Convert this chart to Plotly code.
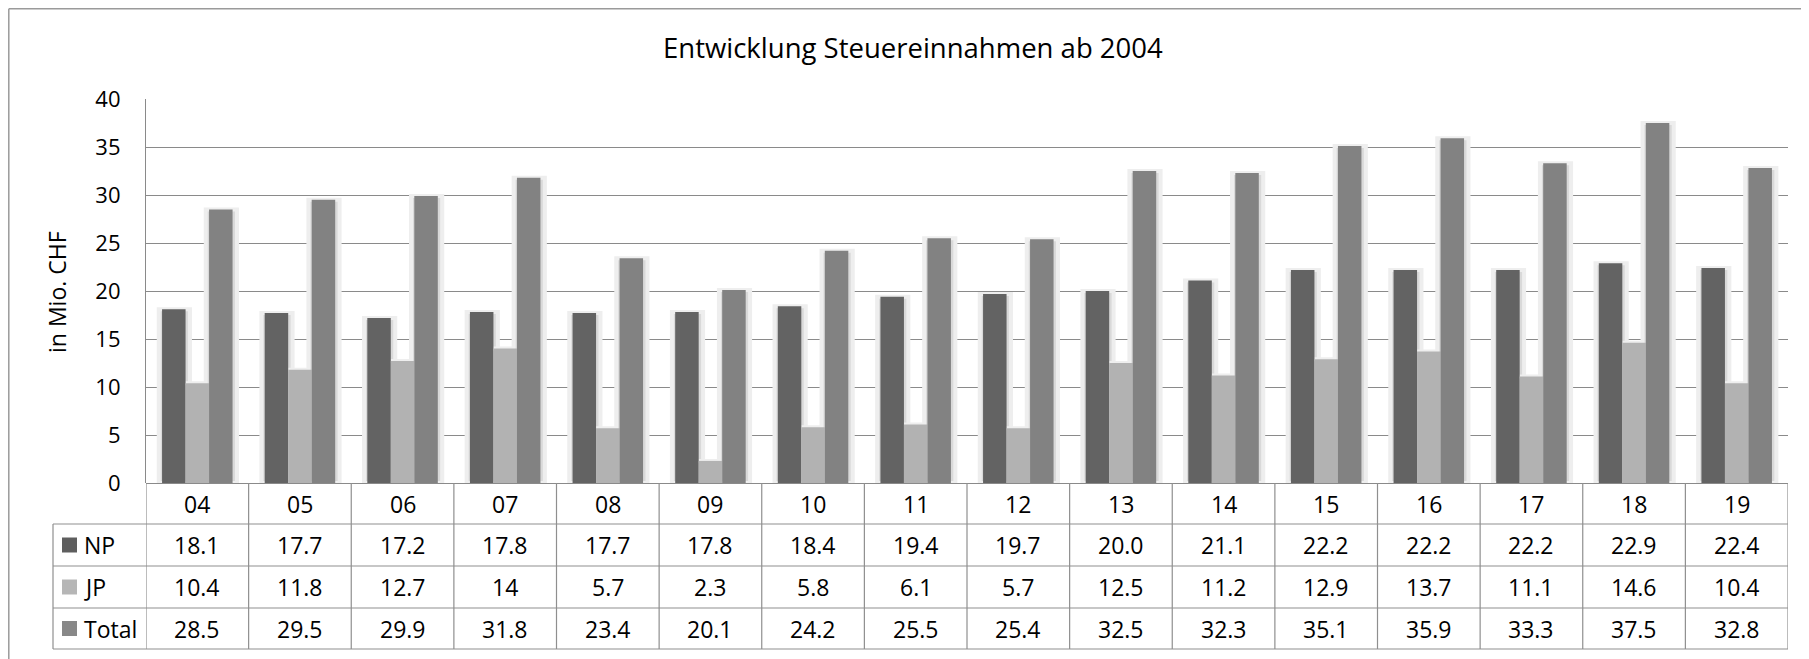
import plotly.graph_objects as go

# ---- data ----
years = ["04", "05", "06", "07", "08", "09", "10", "11", "12", "13", "14", "15", "16", "17", "18", "19"]
np_vals = [18.1, 17.7, 17.2, 17.8, 17.7, 17.8, 18.4, 19.4, 19.7, 20.0, 21.1, 22.2, 22.2, 22.2, 22.9, 22.4]
jp_vals = [10.4, 11.8, 12.7, 14, 5.7, 2.3, 5.8, 6.1, 5.7, 12.5, 11.2, 12.9, 13.7, 11.1, 14.6, 10.4]
total_vals = [28.5, 29.5, 29.9, 31.8, 23.4, 20.1, 24.2, 25.5, 25.4, 32.5, 32.3, 35.1, 35.9, 33.3, 37.5, 32.8]
series_names = ["NP", "JP", "Total"]
title_text = "Entwicklung Steuereinnahmen ab 2004"
y_title = "in Mio. CHF"

# ---- layout geometry (reference-page pixels) ----
W, H = 1809, 659
OFF = 8  # default page body margin
PL, PR, PT, PB = 146, 1788, 99, 483
pw, ph = PR - PL, PB - PT

def px_x(x):
    return (x - PL) / pw

def px_y(y):
    return (PB - y) / ph

FONT = "Open Sans, Calibri, sans-serif"
colors = ["#636363", "#b2b2b2", "#828282"]
key_colors = ["#5e5e5e", "#b6b6b6", "#888888"]
LINE = "#8f8f8f"

bw = 0.229
offsets = [-0.3435, -0.1145, 0.1145]
series = [np_vals, jp_vals, total_vals]

fig = go.Figure()
# soft shadows behind bars
for vals, off in zip(series, offsets):
    fig.add_trace(go.Bar(
        x=years, y=vals, width=bw + 0.075, offset=off - 0.032,
        marker=dict(color="#d9d9d9", line=dict(color="#eeeeee", width=4)),
        showlegend=False, hoverinfo="skip"))
for name, vals, off, c in zip(series_names, series, offsets, colors):
    fig.add_trace(go.Bar(
        x=years, y=vals, width=bw, offset=off, name=name,
        marker=dict(color=c, line=dict(width=0)), showlegend=False))

shapes = []
# outer chart border (top and left visible)
shapes.append(dict(type="line", xref="paper", yref="paper",
                   x0=px_x(8.8), x1=px_x(W + 20), y0=px_y(8.8), y1=px_y(8.8),
                   line=dict(color="#9a9a9a", width=1.5)))
shapes.append(dict(type="line", xref="paper", yref="paper",
                   x0=px_x(8.8), x1=px_x(8.8), y0=px_y(8.8), y1=px_y(H + 20),
                   line=dict(color="#9a9a9a", width=1.5)))

# data table
row_px = [483, 524, 566, 608, 649]
TL = 53
for r in row_px[1:]:
    shapes.append(dict(type="line", xref="paper", yref="paper",
                       x0=px_x(TL), x1=1, y0=px_y(r), y1=px_y(r),
                       line=dict(color=LINE, width=1.2)))
shapes.append(dict(type="line", xref="paper", yref="paper",
                   x0=px_x(TL), x1=px_x(TL), y0=px_y(row_px[1]), y1=px_y(row_px[-1]),
                   line=dict(color=LINE, width=1.2)))
for i in range(len(years) + 1):
    shapes.append(dict(type="line", xref="x", yref="paper",
                       x0=i - 0.5, x1=i - 0.5, y0=0, y1=px_y(row_px[-1]),
                       line=dict(color=LINE, width=1.2)))

annotations = []
TFS = 23
hdr_c = px_y((row_px[0] + row_px[1]) / 2)
for i, yr in enumerate(years):
    annotations.append(dict(x=i, xref="x", y=hdr_c, yref="paper", text=yr,
                            showarrow=False, xanchor="center", yanchor="middle",
                            font=dict(size=TFS, color="#000", family=FONT)))

np_txt = [f"{v:.1f}" for v in np_vals]
jp_txt = [f"{v:g}" for v in jp_vals]
tot_txt = [f"{v:g}" for v in total_vals]
for k, (name, txts) in enumerate(zip(series_names, [np_txt, jp_txt, tot_txt])):
    cy_px = (row_px[k + 1] + row_px[k + 2]) / 2
    cy = px_y(cy_px)
    for i, t in enumerate(txts):
        annotations.append(dict(x=i, xref="x", y=cy, yref="paper", text=t,
                                showarrow=False, xanchor="center", yanchor="middle",
                                font=dict(size=TFS, color="#000", family=FONT)))
    shapes.append(dict(type="rect", xref="paper", yref="paper",
                       x0=px_x(62), x1=px_x(77), y0=px_y(cy_px - 7.5), y1=px_y(cy_px + 7.5),
                       fillcolor=key_colors[k], line=dict(width=0)))
    annotations.append(dict(x=px_x(82), xref="paper", y=cy, yref="paper", text=name,
                            showarrow=False, xanchor="left", yanchor="middle",
                            font=dict(size=TFS, color="#000", family=FONT)))

annotations.append(dict(x=px_x(913), xref="paper", y=px_y(47.5), yref="paper",
                        text=title_text, showarrow=False, xanchor="center", yanchor="middle",
                        font=dict(size=27.5, color="#000", family=FONT)))
annotations.append(dict(x=px_x(57), xref="paper", y=px_y(292), yref="paper",
                        text=y_title, showarrow=False, textangle=-90,
                        xanchor="center", yanchor="middle",
                        font=dict(size=23, color="#000", family=FONT)))

fig.update_layout(
    width=W, height=H,
    margin=dict(l=PL - OFF, r=W - (PR - OFF), t=PT - OFF, b=H - (PB - OFF), pad=0),
    paper_bgcolor="white", plot_bgcolor="white",
    barmode="overlay",
    font=dict(family=FONT, color="#000"),
    shapes=shapes, annotations=annotations,
    xaxis=dict(type="category", range=[-0.5, len(years) - 0.5], showticklabels=False,
               showgrid=False, zeroline=False, showline=False, ticks=""),
    yaxis=dict(range=[0, 40], dtick=5, showgrid=True, gridcolor="#8a8a8a", gridwidth=1.2,
               zeroline=True, zerolinecolor="#8a8a8a", zerolinewidth=1.2,
               showline=True, linecolor="#8a8a8a", linewidth=1.2, ticks="",
               tickfont=dict(size=22, color="#000", family=FONT), ticklabelstandoff=20),
)

fig.write_html("out.html")
